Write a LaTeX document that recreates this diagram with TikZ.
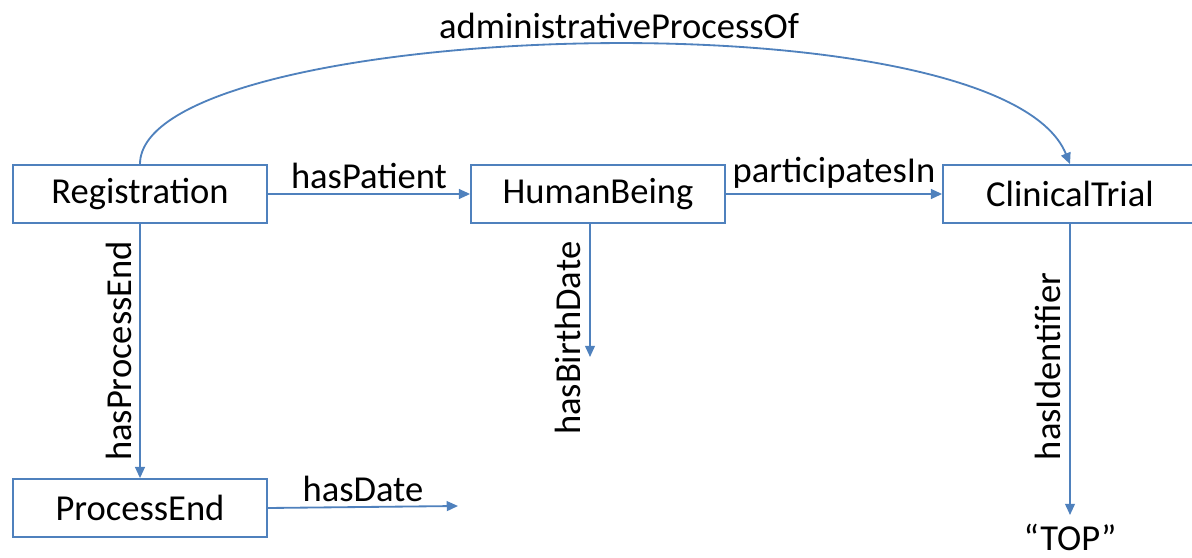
\documentclass[tikz,border=0pt]{standalone}
\usepackage{fontspec}
\setmainfont{Carlito}
\usetikzlibrary{arrows.meta}
\definecolor{linkblue}{RGB}{79,129,189}
\tikzset{
	cls/.style={draw=linkblue, line width=1.2pt, minimum width=6.35cm, minimum height=1.45cm, inner sep=0pt},
	rel/.style={draw=linkblue, line width=1.3pt, -{Triangle[length=8pt,width=7pt]}},
	lbl/.style={font=\fontsize{26}{31}\selectfont}
}
\begin{document}
\begin{tikzpicture}[x=0.025cm, y=-0.025cm, lbl]
		\useasboundingbox (0,0) rectangle (1192,558);
		\node[cls] (reg) at (140,194) {Registration};
		\node[cls] (human) at (598,194) {HumanBeing};
		\node[cls] (trial) at (1070,194) {ClinicalTrial};
		\node[cls] (pend) at (140,508) {ProcessEnd};
		\coordinate (birth) at (590,357);
		\coordinate (date) at (458,506);
		\coordinate (ident) at (1070,515);
		\node (top) at (1070,537) {“TOP”};
		\draw[rel] (reg) -- node[above] {hasPatient} (human);
		\draw[rel] (human) -- node[above] {participatesIn} (trial);
		\draw[rel] (reg.north) .. controls (140,20) and (1000,-10) .. node[pos=0.53, above] {administrativeProcessOf} (trial.north);
		\draw[rel] (reg.south) -- node[rotate=90, above, inner sep=5pt] {hasProcessEnd} (pend.north);
		\draw[rel] (human.south -| birth) -- node[pos=0.86, rotate=90, above, inner sep=6pt] {hasBirthDate} (birth);
		\draw[rel] (trial.south) -- node[pos=0.49, rotate=90, above, inner sep=6pt] {hasIdentifier} (ident);
		\draw[rel] (pend.east) -- node[above] {hasDate} (date);
	\end{tikzpicture}
\end{document}
